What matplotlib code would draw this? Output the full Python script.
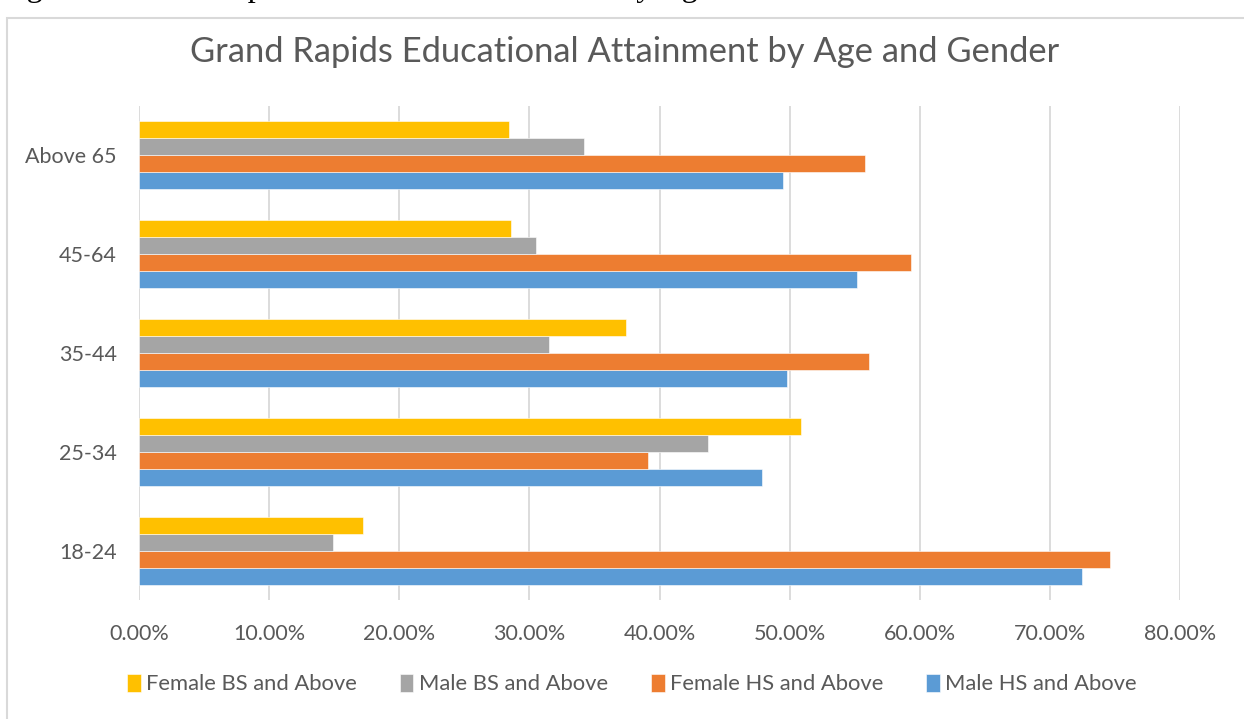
import matplotlib.pyplot as plt
import numpy as np
from matplotlib.patches import Rectangle
from matplotlib.ticker import PercentFormatter

plt.rcParams['font.family'] = ['Lato', 'DejaVu Sans']

# categories, from bottom to top
ages = ["18-24", "25-34", "35-44", "45-64", "Above 65"]

# series in Excel order (first one drawn at the bottom of each group)
male_hs = [72.5, 47.9, 49.8, 55.2, 49.5]
female_hs = [74.6, 39.1, 56.1, 59.3, 55.8]
male_bs = [14.9, 43.7, 31.5, 30.5, 34.2]
female_bs = [17.2, 50.9, 37.4, 28.6, 28.4]

series_names = ["Male HS and Above", "Female HS and Above",
                "Male BS and Above", "Female BS and Above"]
colors = ["#5B9BD5", "#ED7D31", "#A5A5A5", "#FFC000"]

fig = plt.figure(figsize=(12.44, 7.19), dpi=100)
ax = fig.add_axes([139 / 1244, 1 - 600 / 719, (1180 - 139) / 1244, (600 - 106) / 719])

y = np.arange(len(ages))
h = 0.172
handles = []
for k, (vals, name, c) in enumerate(zip([male_hs, female_hs, male_bs, female_bs],
                                         series_names, colors)):
    b = ax.barh(y + (k - 1.5) * h, vals, height=h, color=c, label=name,
                edgecolor="white", linewidth=0.4, zorder=3)
    handles.append(b)

ax.set_xlim(0, 80)
ax.set_ylim(-0.5, len(ages) - 0.5)
ax.set_xticks(np.arange(0, 81, 10))
ax.xaxis.set_major_formatter(PercentFormatter(decimals=2))
ax.set_yticks(y)
ax.set_yticklabels(ages)
ax.grid(axis="x", color="#D9D9D9", linewidth=1.3, zorder=0)
for s in ax.spines.values():
    s.set_visible(False)
ax.tick_params(length=0, labelsize=15.5, colors="#595959")
ax.tick_params(axis="x", pad=17)
ax.tick_params(axis="y", pad=16)

fig.text(625 / 1244, 1 - 52 / 719, "Grand Rapids Educational Attainment by Age and Gender",
         fontsize=24.8, color="#595959", ha="center", va="center")

leg = fig.legend(handles[::-1], series_names[::-1], loc="center",
                 bbox_to_anchor=(632 / 1244, 1 - 684 / 719), ncol=4, frameon=False,
                 fontsize=15.8, handlelength=0.62, handleheight=0.9,
                 handletextpad=0.25, columnspacing=1.95)
for t in leg.get_texts():
    t.set_color("#595959")

# chart frame
fig.patches.append(Rectangle((7 / 1244, -0.01), 1.1, 1 - 18 / 719 + 0.01,
                             transform=fig.transFigure, fill=False,
                             edgecolor="#D9D9D9", linewidth=1.5))

# caption of the document, cut off at the top edge
fig.text(0.0, 1 + 4 / 719, "Figure 1: Grand Rapids Educational Attainment by Age and Gender",
         family="Liberation Serif", fontsize=23, va="baseline", ha="left")

fig.savefig("out.png")
